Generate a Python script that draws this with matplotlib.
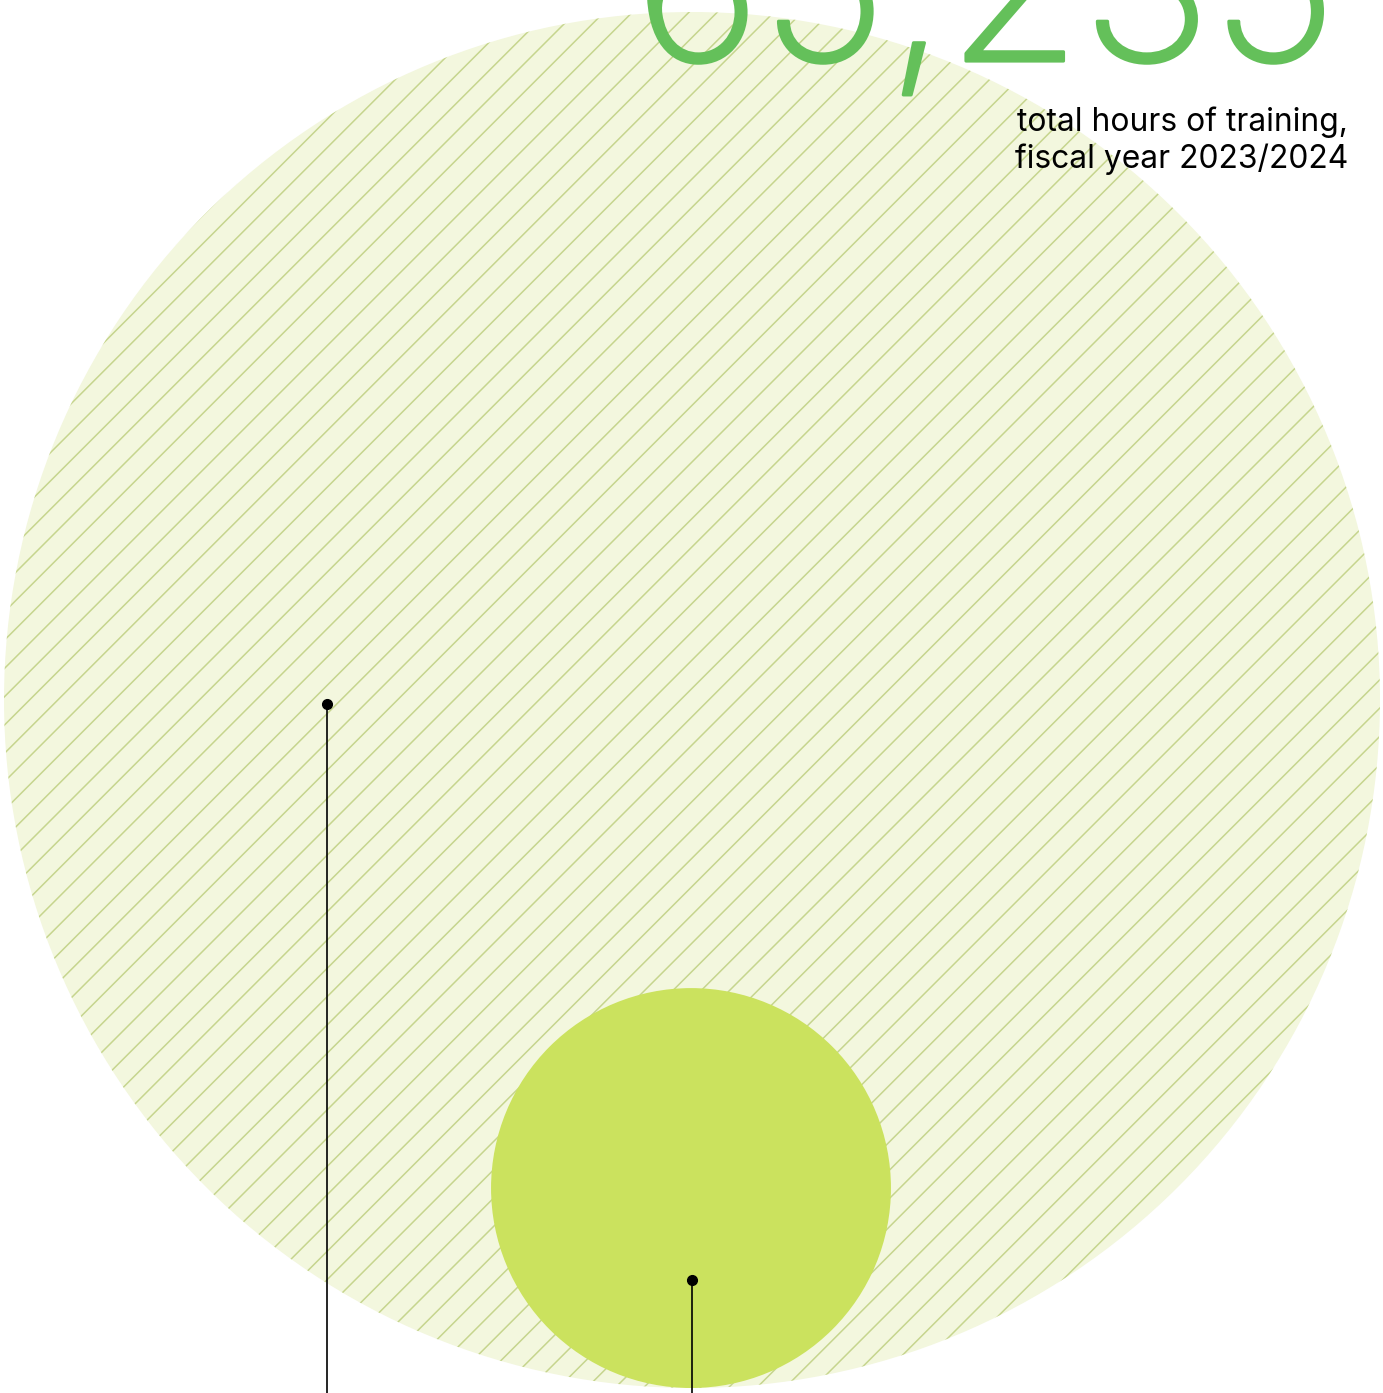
import numpy as np
import matplotlib
matplotlib.use("Agg")
import matplotlib.pyplot as plt
from matplotlib.patches import Circle
from matplotlib.collections import LineCollection
import matplotlib.patheffects as pe

# ---- data ----
total_hours = 65235
subset_hours = 5510
headline = "65,235"
caption_lines = ["total hours of training,", "fiscal year 2023/2024"]

# ---- layout (pixel coordinates) ----
W, H = 1383, 1393
big_cx, big_bottom = 692, 1388
R_max = 688
small_cx = 691

fig = plt.figure(figsize=(W / 100, H / 100), dpi=100)
ax = fig.add_axes([0, 0, 1, 1])
ax.set_xlim(0, W)
ax.set_ylim(H, 0)
ax.set_aspect("equal")
ax.axis("off")

r_big = R_max * np.sqrt(total_hours / total_hours)
r_small = R_max * np.sqrt(subset_hours / total_hours)
big_cy = big_bottom - r_big
small_cy = big_bottom - r_small

big = Circle((big_cx, big_cy), r_big, facecolor="#f3f7de", edgecolor="none", zorder=1)
ax.add_patch(big)

# hatch lines (45 deg) clipped to big circle
spacing = 28.3
segs = []
for c in np.arange(-H, W + H, spacing):
    segs.append([(c - H - 50, H + 50), (c + 50, -50)])
lc = LineCollection(segs, colors="#c6d58e", linewidths=1.1, zorder=2)
ax.add_collection(lc)
lc.set_clip_path(big)

small = Circle((small_cx, small_cy), r_small, facecolor="#cbe25e", edgecolor="none", zorder=3)
ax.add_patch(small)

# leader dots and lines
anchors = [(327, 704), (692, 1280)]
for (x, y) in anchors:
    ax.plot([x, x], [y, H + 5], color="black", lw=1.2, zorder=4, solid_capstyle="butt")
    ax.plot([x], [y], "o", color="black", ms=7, zorder=5)

green = "#64c05a"
ax.text(1337, 61, headline, color=green, fontsize=157, family=["Inter", "DejaVu Sans"],
        fontweight="light", ha="right", va="baseline", zorder=6,
        path_effects=[pe.Stroke(linewidth=2.3, foreground=green), pe.Normal()])
ax.text(1348, 131, caption_lines[0], color="black", fontsize=22.9, family=["Inter", "DejaVu Sans"],
        ha="right", va="baseline", zorder=6)
ax.text(1348, 168, caption_lines[1], color="black", fontsize=22.9, family=["Inter", "DejaVu Sans"],
        ha="right", va="baseline", zorder=6)

fig.savefig("out.png", dpi=100)
